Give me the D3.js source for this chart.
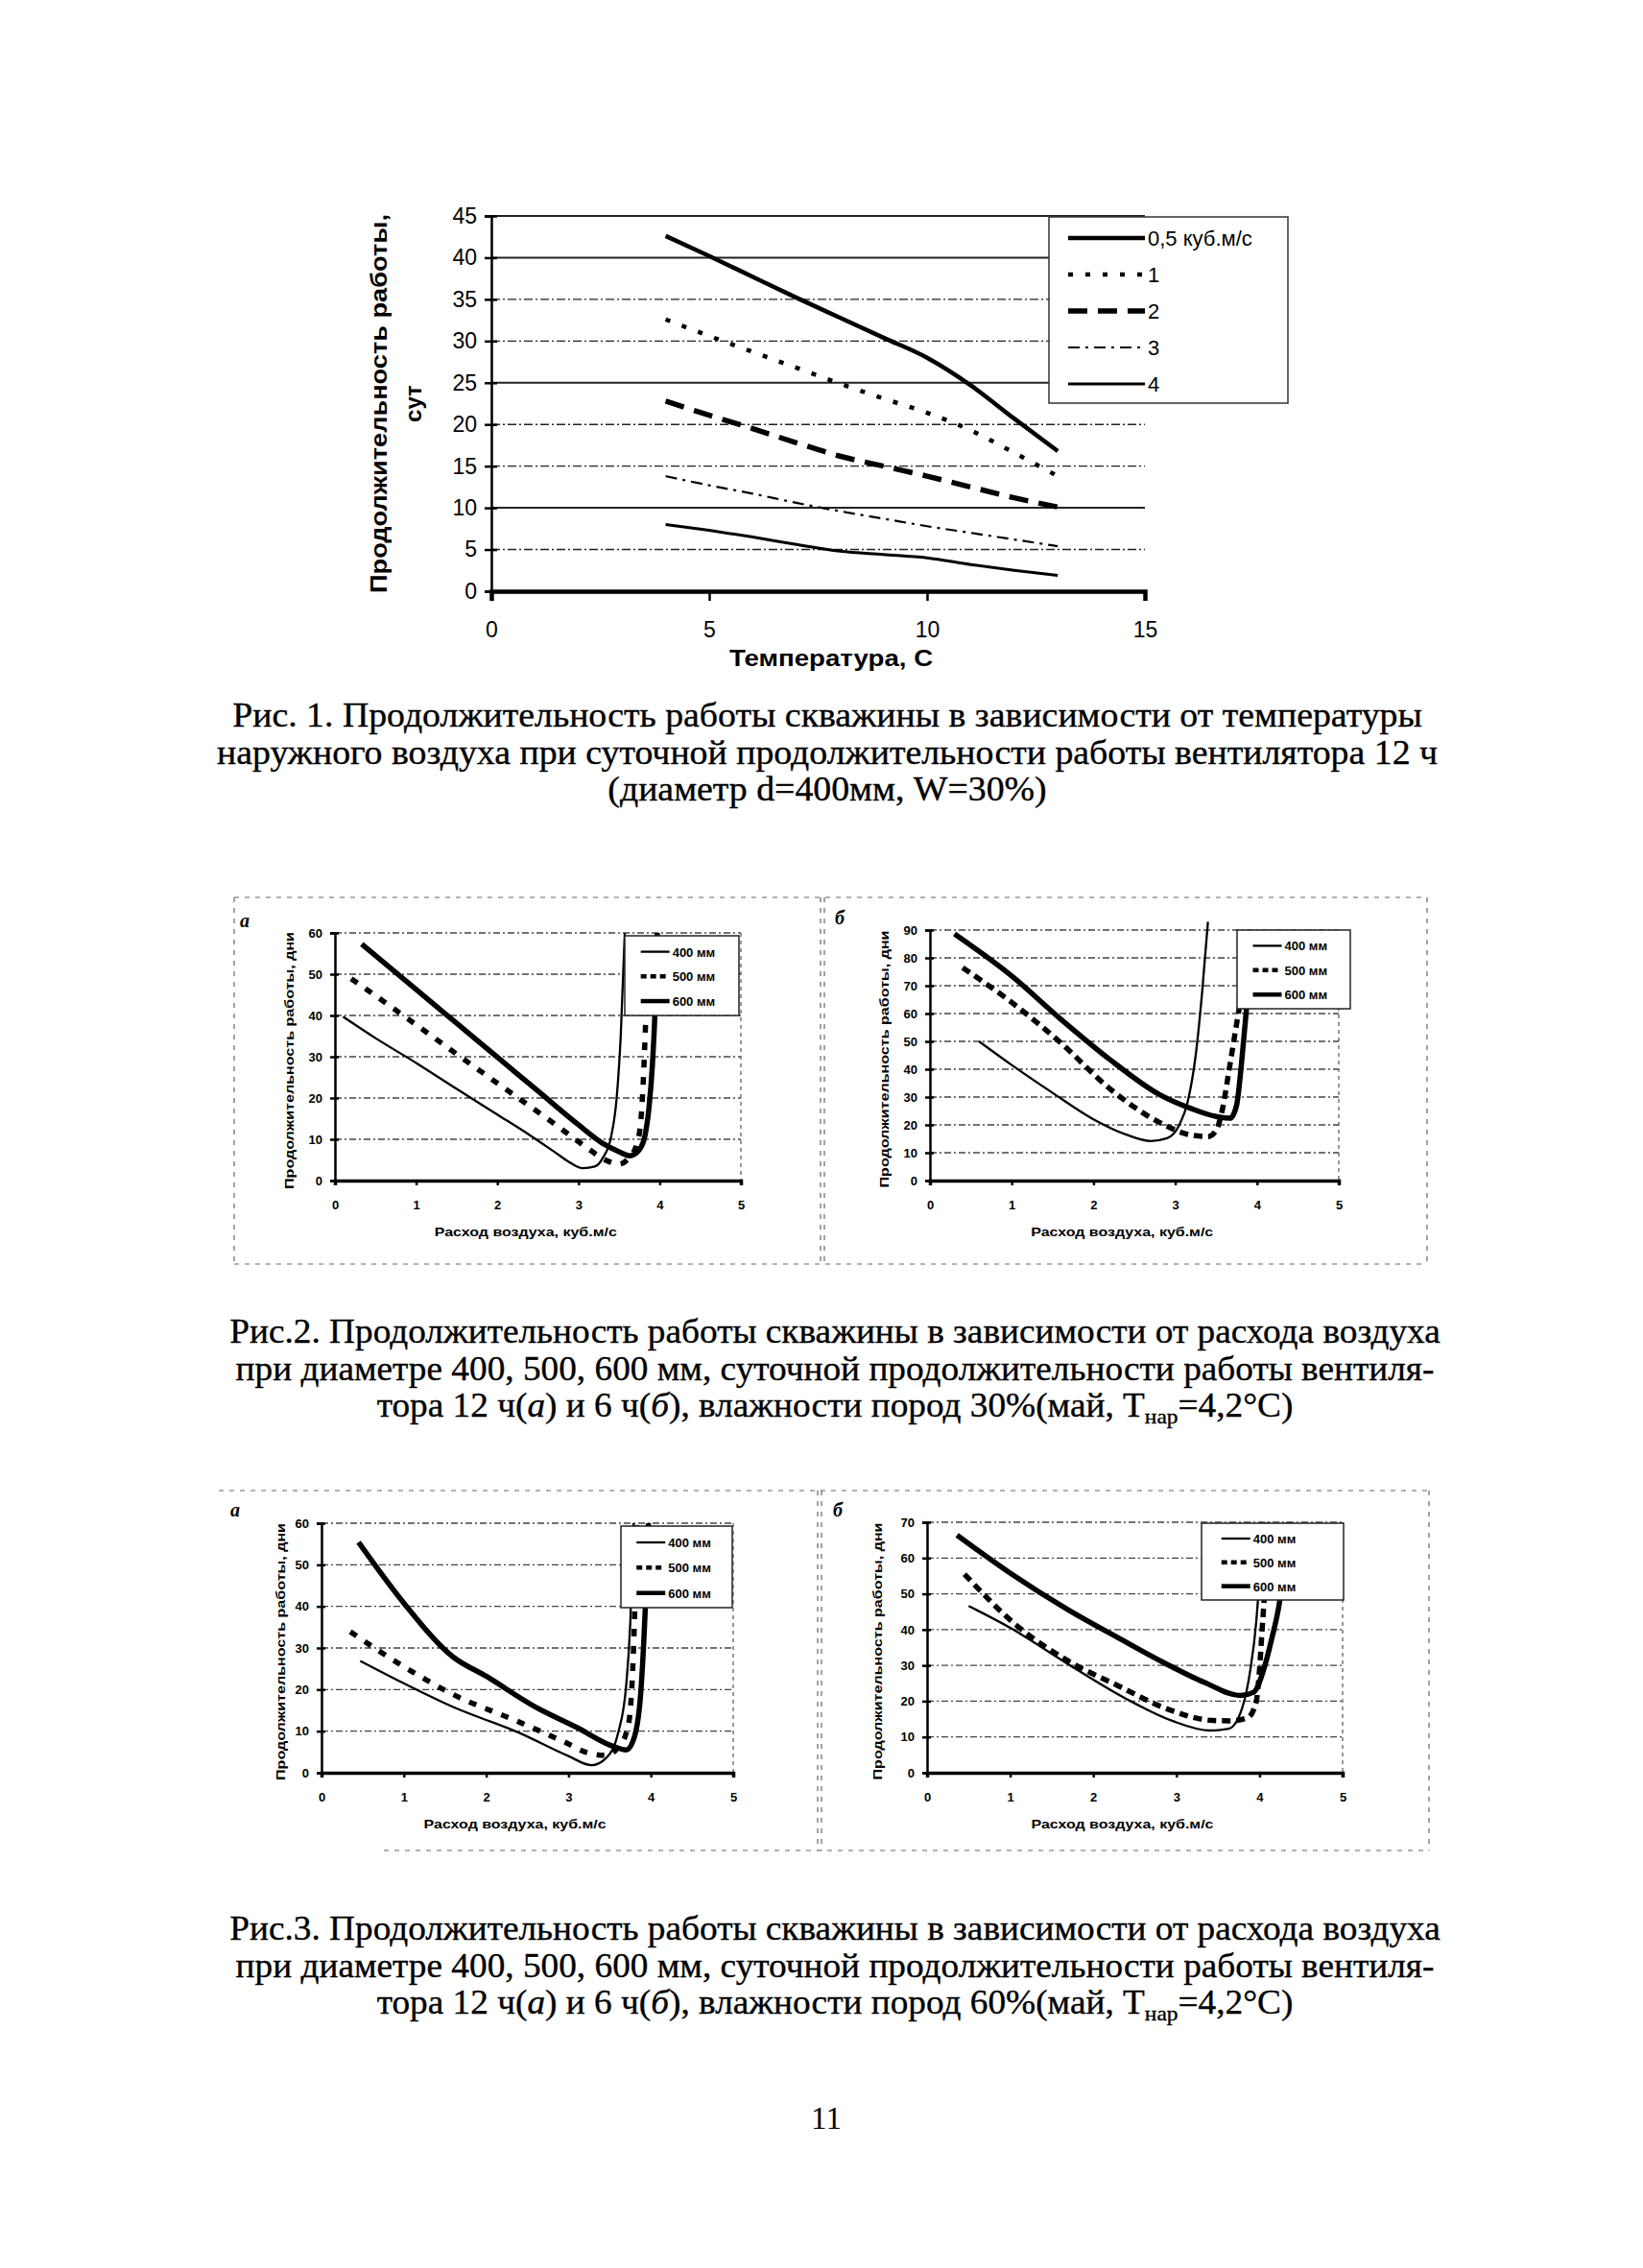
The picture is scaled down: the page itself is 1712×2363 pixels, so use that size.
<!DOCTYPE html>
<html><head><meta charset="utf-8">
<script src="https://cdn.jsdelivr.net/npm/d3@7"></script>
<style>body{margin:0;background:#fff}</style>
</head><body>
<script>
// ---------------- DATA ----------------
// Fig.1
const fig1Temps = [4,5,6,7,8,9,10,11,12,13];
const fig1S05 = [42.6,40.2,37.7,35.2,32.8,30.4,28.0,24.7,20.7,16.8];
const fig1S1  = [32.6,30.6,28.7,26.8,24.9,23.1,21.4,19.3,16.6,13.8];
const fig1S2  = [22.8,21.1,19.5,17.8,16.2,15.0,13.8,12.5,11.2,10.1];
const fig1S3  = [13.8,12.7,11.7,10.6,9.6,8.7,7.8,7.0,6.2,5.4];
const fig1S4  = [8.0,7.3,6.5,5.6,4.8,4.4,4.0,3.2,2.5,1.9];
const fig1Names = ["0,5 куб.м/с","1","2","3","4"];
const fig1XTicks = [0,5,10,15];
const fig1YTicks = [0,5,10,15,20,25,30,35,40,45];

// Fig.2 a (12 h, W=30%)
const f2a400x = [0.1,0.5,1.0,1.5,2.0,2.4,2.7,2.9,3.05,3.2,3.3,3.4,3.47,3.52,3.57];
const f2a400y = [39.7,34.5,28.5,22.2,16.0,11.0,7.0,4.3,3.0,3.4,5.5,10.5,20,35,60];
const f2a500x = [0.2,0.7,1.2,1.7,2.2,2.7,3.1,3.35,3.5,3.62,3.72,3.77,3.8,3.83,3.87];
const f2a500y = [48.9,42.0,34.9,27.8,20.8,13.8,8.0,4.8,4.0,5.5,9,15,25,40,60];
const f2a600x = [0.33,1.0,1.5,2.0,2.5,3.0,3.3,3.5,3.63,3.75,3.82,3.87,3.91,3.94,3.97];
const f2a600y = [57.3,46.3,38.1,29.9,21.7,13.5,9.0,7.0,6.0,7.5,11,18,28,40,60];
// Fig.2 б (6 h, W=30%)
const f2b400x = [0.6,1.0,1.5,2.0,2.4,2.7,2.9,3.05,3.15,3.25,3.33,3.4];
const f2b400y = [50,41.5,31.5,22,16.5,14.2,15.2,20,28,45,68,93];
const f2b500x = [0.4,1.0,1.6,2.2,2.8,3.2,3.4,3.5,3.58,3.66,3.76,3.84,3.92];
const f2b500y = [76.5,64.0,49.5,33.0,21.0,16.3,15.8,18,26,40,58,72,90];
const f2b600x = [0.3,1.0,1.6,2.2,2.8,3.2,3.5,3.67,3.75,3.81,3.86,3.9,3.94];
const f2b600y = [88.6,73.5,58,43.5,31.0,25.8,23.0,22.4,27,42,58,72,90];
// Fig.3 a (12 h, W=60%)
const f3a400x = [0.47,1.0,1.6,2.4,3.0,3.28,3.46,3.6,3.7,3.75,3.79];
const f3a400y = [26.9,21.5,15.8,9.6,4.0,1.8,3.6,9.4,20.9,36,60];
const f3a500x = [0.35,1.0,1.6,2.4,2.95,3.23,3.45,3.6,3.7,3.75,3.78,3.8,3.83];
const f3a500y = [33.9,25.5,18.8,12.2,7.4,4.8,4.2,6,9.5,15,25,36,60];
const f3a600x = [0.45,1.0,1.6,2.0,2.6,3.1,3.55,3.7,3.8,3.88,3.93,3.97];
const f3a600y = [55.4,40.8,27.8,23.2,15.8,10.9,6.3,5.5,8.6,20,38.5,60];
// Fig.3 б (6 h, W=60%)
const f3b400x = [0.5,1.0,1.7,2.4,2.95,3.4,3.63,3.79,3.89,3.96,4.0,4.03];
const f3b400y = [46.6,40.5,30.3,20.6,14.5,11.8,12.3,18,28.8,42,55,70];
const f3b500x = [0.45,1.07,1.7,2.3,2.87,3.44,3.65,3.86,3.96,4.0,4.03,4.06,4.1];
const f3b500y = [55.5,41.3,31.2,24.3,18.0,14.6,14.5,15.4,19.8,28.8,39.5,50,70];
const f3b600x = [0.36,1.0,1.7,2.3,2.87,3.34,3.77,3.93,4.05,4.15,4.24,4.3,4.35];
const f3b600y = [66.4,55.8,45.5,37.7,30.5,25.2,21.6,22.5,28.8,37.7,47.5,58,70];

const diamNames = ["400 мм","500 мм","600 мм"];
const flowXTicks = [0,1,2,3,4,5];

// ---------------- DRAW ----------------
const W = 1712, H = 2363;
const svg = d3.select("body").append("svg").attr("width", W).attr("height", H);
svg.append("rect").attr("width", W).attr("height", H).attr("fill", "#fff");
const SANS = "Liberation Sans, Arial, sans-serif";
const SERIF = "Liberation Serif, Times New Roman, serif";

function zip(xs, ys){ return xs.map((x,i)=>[x, ys[i]]); }

// ===== Fig 1 =====
(function(){
  const g = svg.append("g");
  const x = d3.scaleLinear().domain([0,15]).range([512,1193]);
  const y = d3.scaleLinear().domain([0,45]).range([616,225]);
  const solid = new Set([45,40,25,10]);
  g.selectAll(".grid").data(fig1YTicks.filter(d=>d>0)).enter().append("line")
    .attr("x1", x(0)).attr("x2", x(15)).attr("y1", d=>y(d)).attr("y2", d=>y(d))
    .attr("stroke", "#222").attr("stroke-width", d=>solid.has(d)?2:1.4)
    .attr("stroke-dasharray", d=>solid.has(d)?null:"9,3,2,3");
  const ya = g.append("g").attr("transform", `translate(${x(0)},0)`)
    .call(d3.axisLeft(y).tickValues(fig1YTicks).tickSize(7).tickPadding(8));
  ya.select(".domain").attr("stroke-width", 2.5).attr("stroke", "#000");
  ya.selectAll(".tick line").attr("stroke-width", 2.5);
  ya.selectAll(".tick").append("line").attr("x2", 6).attr("stroke", "#000").attr("stroke-width", 2.5);
  ya.selectAll("text").attr("font-family", SANS).attr("font-size", 23).attr("fill", "#000");
  const xa = g.append("g").attr("transform", `translate(0,${y(0)})`)
    .call(d3.axisBottom(x).tickValues(fig1XTicks).tickSize(10).tickPadding(22));
  xa.select(".domain").attr("stroke-width", 4.5).attr("stroke", "#000");
  xa.selectAll(".tick line").attr("stroke-width", 2.5);
  xa.selectAll("text").attr("font-family", SANS).attr("font-size", 23).attr("fill", "#000");
  g.append("text").attr("x", x(7.8)).attr("y", 694).attr("text-anchor", "middle")
    .attr("font-family", SANS).attr("font-weight", "bold").attr("font-size", 24)
    .attr("textLength", 212).attr("lengthAdjust", "spacingAndGlyphs").text("Температура, С");
  const yt = g.append("g").attr("transform", `translate(403,${(y(0)+y(45))/2}) rotate(-90)`);
  yt.append("text").attr("text-anchor", "middle").attr("font-family", SANS).attr("font-weight", "bold")
    .attr("font-size", 24).attr("textLength", 395).attr("lengthAdjust", "spacingAndGlyphs")
    .text("Продолжительность работы,");
  yt.append("text").attr("y", 36).attr("text-anchor", "middle").attr("font-family", SANS)
    .attr("font-weight", "bold").attr("font-size", 24).text("сут");
  const series = [fig1S05, fig1S1, fig1S2, fig1S3, fig1S4];
  const styles = [
    {w:4.5, dash:null},
    {w:4.5, dash:"5,13"},
    {w:5.5, dash:"20,11"},
    {w:2.2, dash:"12,6,3,6"},
    {w:3, dash:null}
  ];
  const line = d3.line().x(d=>x(d[0])).y(d=>y(d[1])).curve(d3.curveMonotoneX);
  series.forEach((s,i)=>{
    g.append("path").datum(zip(fig1Temps, s)).attr("d", line).attr("fill", "none")
      .attr("stroke", "#000").attr("stroke-width", styles[i].w)
      .attr("stroke-dasharray", styles[i].dash);
  });
  const lg = g.append("g");
  lg.append("rect").attr("x", 1093).attr("y", 226).attr("width", 249).attr("height", 194)
    .attr("fill", "#fff").attr("stroke", "#333").attr("stroke-width", 1.5);
  fig1Names.forEach((n,i)=>{
    const yy = 248 + i*38;
    lg.append("line").attr("x1", 1113).attr("x2", 1193).attr("y1", yy).attr("y2", yy)
      .attr("stroke", "#000").attr("stroke-width", styles[i].w).attr("stroke-dasharray", styles[i].dash);
    lg.append("text").attr("x", 1196).attr("y", yy+8).attr("font-family", SANS).attr("font-size", 22).text(n);
  });
})();

// ===== small charts =====
const panels = [
  {x0:349, x5:772, yTop:972, y0:1230, ymax:60, step:10,
   legend:{x:651, y:975, w:119, h:83}, label:{t:"а", x:250, y:966}, ytx:306,
   data:[[f2a400x,f2a400y],[f2a500x,f2a500y],[f2a600x,f2a600y]], dash:"8,10"},
  {x0:969, x5:1395, yTop:969, y0:1230, ymax:90, step:10,
   legend:{x:1289, y:969, w:118, h:82}, label:{t:"б", x:870, y:963}, ytx:926,
   data:[[f2b400x,f2b400y],[f2b500x,f2b500y],[f2b600x,f2b600y]], dash:"9,6"},
  {x0:335, x5:764, yTop:1587, y0:1847, ymax:60, step:10,
   legend:{x:647, y:1590, w:116, h:85}, label:{t:"а", x:240, y:1580}, ytx:297,
   data:[[f3a400x,f3a400y],[f3a500x,f3a500y],[f3a600x,f3a600y]], dash:"8,10"},
  {x0:966, x5:1399, yTop:1586, y0:1847, ymax:70, step:10,
   legend:{x:1252, y:1587, w:148, h:80}, label:{t:"б", x:868, y:1580}, ytx:919,
   data:[[f3b400x,f3b400y],[f3b500x,f3b500y],[f3b600x,f3b600y]], dash:"9,6"}
];

panels.forEach(p=>{
  const g = svg.append("g");
  const x = d3.scaleLinear().domain([0,5]).range([p.x0, p.x5]);
  const y = d3.scaleLinear().domain([0,p.ymax]).range([p.y0, p.yTop]);
  const yticks = d3.range(0, p.ymax+0.1, p.step);
  g.selectAll(".grid").data(yticks.filter(d=>d>0)).enter().append("line")
    .attr("x1", x(0)).attr("x2", x(5)).attr("y1", d=>y(d)).attr("y2", d=>y(d))
    .attr("stroke", "#444").attr("stroke-width", 1.3).attr("stroke-dasharray", "7,3,2,3");
  g.append("line").attr("x1", x(5)).attr("x2", x(5)).attr("y1", y(p.ymax)).attr("y2", y(0))
    .attr("stroke", "#555").attr("stroke-width", 1.2).attr("stroke-dasharray", "4,4");
  const ya = g.append("g").attr("transform", `translate(${x(0)},0)`)
    .call(d3.axisLeft(y).tickValues(yticks).tickFormat(d3.format("d")).tickSize(5).tickPadding(8));
  ya.select(".domain").attr("stroke-width", 2.5);
  ya.selectAll(".tick line").attr("stroke-width", 2.5);
  ya.selectAll(".tick").append("line").attr("x2", 4).attr("stroke", "#000").attr("stroke-width", 2.5);
  ya.selectAll("text").attr("font-family", SANS).attr("font-weight", "bold").attr("font-size", 13).attr("fill", "#000");
  const xa = g.append("g").attr("transform", `translate(0,${y(0)})`)
    .call(d3.axisBottom(x).tickValues(flowXTicks).tickFormat(d3.format("d")).tickSize(5).tickPadding(16));
  xa.select(".domain").attr("stroke-width", 3.5);
  xa.selectAll(".tick line").attr("stroke-width", 2.5);
  xa.selectAll("text").attr("font-family", SANS).attr("font-weight", "bold").attr("font-size", 13).attr("fill", "#000");
  g.append("text").attr("x", x(2.35)).attr("y", p.y0+58).attr("text-anchor", "middle")
    .attr("font-family", SANS).attr("font-weight", "bold").attr("font-size", 13)
    .attr("textLength", 190).attr("lengthAdjust", "spacingAndGlyphs").text("Расход воздуха, куб.м/с");
  g.append("text").attr("transform", `translate(${p.ytx},${(p.y0+p.yTop)/2+4}) rotate(-90)`)
    .attr("text-anchor", "middle").attr("font-family", SANS).attr("font-weight", "bold").attr("font-size", 13)
    .attr("textLength", 268).attr("lengthAdjust", "spacingAndGlyphs").text("Продолжительность работы, дни");
  const line = d3.line().x(d=>x(d[0])).y(d=>y(d[1])).curve(d3.curveMonotoneX);
  const st = [{w:2.3, dash:null},{w:5.5, dash:p.dash},{w:5.5, dash:null}];
  p.data.forEach((s,i)=>{
    g.append("path").datum(zip(s[0], s[1])).attr("d", line).attr("fill", "none")
      .attr("stroke", "#000").attr("stroke-width", st[i].w).attr("stroke-dasharray", st[i].dash);
  });
  const L = p.legend;
  g.append("rect").attr("x", L.x).attr("y", L.y).attr("width", L.w).attr("height", L.h)
    .attr("fill", "#fff").attr("stroke", "#222").attr("stroke-width", 1.5);
  diamNames.forEach((n,i)=>{
    const yy = L.y + L.h*(0.2 + 0.31*i);
    const sx = L.x + L.w*0.14;
    g.append("line").attr("x1", sx).attr("x2", sx+30).attr("y1", yy).attr("y2", yy)
      .attr("stroke", "#000").attr("stroke-width", i===0?2.3:4.5).attr("stroke-dasharray", i===1?"6,4":null);
    g.append("text").attr("x", sx+33).attr("y", yy+5).attr("font-family", SANS).attr("font-weight", "bold")
      .attr("font-size", 13).text(n);
  });
  g.append("text").attr("x", p.label.x).attr("y", p.label.y).attr("font-family", SERIF)
    .attr("font-style", "italic").attr("font-weight", "bold").attr("font-size", 20).text(p.label.t);
});

function dashed(x1,y1,x2,y2){
  svg.append("line").attr("x1",x1).attr("y1",y1).attr("x2",x2).attr("y2",y2)
    .attr("stroke","#666").attr("stroke-width",1.2).attr("stroke-dasharray","5,6");
}
dashed(244,935,1487,935); dashed(244,1317,1487,1317); dashed(855,935,855,1317); dashed(859,935,859,1317); dashed(1487,935,1487,1317); dashed(244,935,244,1317);
dashed(228,1553,1489,1553); dashed(400,1928,1489,1928); dashed(852,1553,852,1928); dashed(856,1553,856,1928); dashed(1489,1553,1489,1928);

// ===== captions (natural Times metrics, one horizontal scale per block) =====
function addParts(t, parts){
  parts.forEach(pt=>{
    const ts = t.append("tspan").text(pt.s);
    if (pt.i) ts.attr("font-style", "italic");
    if (pt.sub) ts.attr("font-size", 22).attr("dy", 7);
    if (pt.up) ts.attr("dy", -7);
  });
}
function caption(cx, y0, firstWidth, lines){
  const tmp = svg.append("text").attr("font-family", SERIF).attr("font-size", 35);
  addParts(tmp, lines[0]);
  const nat = tmp.node().getComputedTextLength();
  tmp.remove();
  const sx = firstWidth / nat;
  lines.forEach((parts, k)=>{
    const t = svg.append("text").attr("transform", `translate(${cx},${y0 + k*38.5}) scale(${sx},1)`)
      .attr("text-anchor", "middle").attr("font-family", SERIF).attr("font-size", 35)
      .attr("fill", "#000").attr("stroke", "#000").attr("stroke-width", 0.35);
    addParts(t, parts);
  });
}
caption(862, 757, 1240, [
  [{s:"Рис. 1. Продолжительность работы скважины в зависимости от температуры"}],
  [{s:"наружного воздуха при суточной продолжительности работы вентилятора 12 ч"}],
  [{s:"(диаметр d=400мм, W=30%)"}]
]);
function fig23(y0, num, w){
  caption(870, y0, 1262, [
    [{s:"Рис."+num+". Продолжительность работы скважины в зависимости от расхода воздуха"}],
    [{s:"при диаметре 400, 500, 600 мм, суточной продолжительности работы вентиля-"}],
    [{s:"тора 12 ч("},{s:"а",i:true},{s:") и 6 ч("},{s:"б",i:true},
      {s:"), влажности пород "+w+"%(май, Т"},{s:"нар",sub:true},{s:"=4,2°С)",up:true}]
  ]);
}
fig23(1399, "2", "30");
fig23(2021, "3", "60");
svg.append("text").attr("x", 861).attr("y", 2218).attr("text-anchor", "middle")
  .attr("font-family", SERIF).attr("font-size", 33).text("11");
</script>
</body></html>
